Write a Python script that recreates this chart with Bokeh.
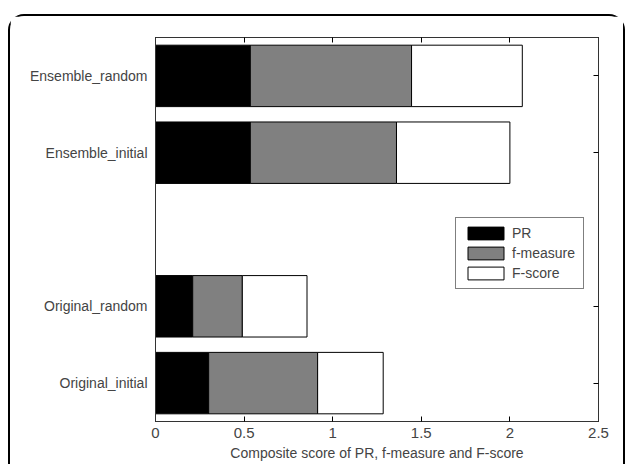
from bokeh.plotting import figure
from bokeh.models import ColumnDataSource, FixedTicker, LinearAxis, Legend, CustomJSTickFormatter
from bokeh.embed import file_html
from bokeh.resources import INLINE

# Data
categories = ["Original_initial", "Original_random", "Ensemble_initial", "Ensemble_random"]
positions = [1, 2, 4, 5]
pr = [0.30, 0.21, 0.535, 0.535]
f_measure = [0.615, 0.28, 0.825, 0.91]
f_score = [0.37, 0.365, 0.64, 0.625]
series_names = ["PR", "f-measure", "F-score"]
series_colors = ["#000000", "#808080", "#ffffff"]
x_ticks = [0, 0.5, 1, 1.5, 2, 2.5]
x_label = "Composite score of PR, f-measure and F-score"

src = ColumnDataSource(dict(y=positions, PR=pr, fm=f_measure, Fs=f_score))

p = figure(frame_width=443, frame_height=384, x_range=(0, 2.5), y_range=(0.5, 5.5),
           output_backend="svg", toolbar_location=None,
           min_border_left=145, min_border_right=25, min_border_top=21, min_border_bottom=43)
p.margin = (14, 0, 0, 8)
p.styles = {"border": "2px solid #000", "border-bottom": "none",
            "border-radius": "16px 16px 0 0"}

rs = p.hbar_stack(["PR", "fm", "Fs"], y="y", height=0.8, color=series_colors,
                  line_color="black", line_width=1, source=src)

p.grid.visible = False
p.outline_line_color = "#333333"
p.outline_line_width = 1

font = "Liberation Sans"
blank = CustomJSTickFormatter(code="return ''")

# bottom axis
xa = p.xaxis[0]
xa.ticker = FixedTicker(ticks=x_ticks)
xa.major_tick_in = 5
xa.major_tick_out = 0
xa.minor_tick_line_color = None
xa.axis_line_color = "#333333"
xa.major_label_text_font = font
xa.major_label_text_font_size = "15px"
xa.major_label_standoff = 6
xa.axis_label = x_label
xa.axis_label_text_font = font
xa.axis_label_text_font_size = "14px"
xa.axis_label_text_font_style = "normal"
xa.axis_label_standoff = 4

# left axis
ya = p.yaxis[0]
ya.ticker = FixedTicker(ticks=positions)
ya.major_label_overrides = {pos: lab for pos, lab in zip(positions, categories)}
ya.major_tick_in = 0
ya.major_tick_out = 0
ya.minor_tick_line_color = None
ya.axis_line_color = "#333333"
ya.major_label_text_font = font
ya.major_label_text_font_size = "14px"
ya.major_label_standoff = 8

# top axis (ticks only)
ta = LinearAxis(ticker=FixedTicker(ticks=x_ticks), formatter=blank,
                major_tick_in=5, major_tick_out=0, minor_tick_line_color=None,
                axis_line_color="#333333", major_label_standoff=0)
p.add_layout(ta, "above")

# right axis (ticks only)
ra = LinearAxis(ticker=FixedTicker(ticks=positions), formatter=blank,
                major_tick_in=5, major_tick_out=0, minor_tick_line_color=None,
                axis_line_color="#333333", major_label_standoff=0)
p.add_layout(ra, "right")

legend = Legend(items=[(n, [r]) for n, r in zip(series_names, rs)],
                location=(300, 132), orientation="vertical")
legend.border_line_color = "black"
legend.border_line_width = 1
legend.background_fill_alpha = 1
legend.label_text_font = font
legend.label_text_font_size = "14px"
legend.glyph_width = 45
legend.glyph_height = 16
legend.spacing = 4
legend.padding = 7
legend.margin = 0
legend.label_standoff = 4
legend.label_height = 16
legend.label_width = 64
p.add_layout(legend, "center")

open("out.html", "w").write(file_html(p, INLINE))
